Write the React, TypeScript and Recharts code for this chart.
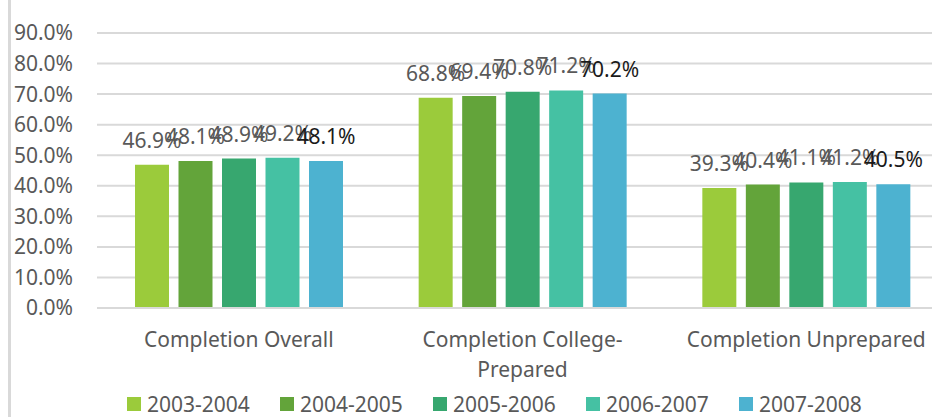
import React from "react";
import {
    BarChart,
    Bar,
    XAxis,
    YAxis,
    CartesianGrid,
    Legend,
    LabelList,
} from "recharts";

const categories = [
    "Completion Overall",
    "Completion College-Prepared",
    "Completion Unprepared",
];

const years = ["2003-2004", "2004-2005", "2005-2006", "2006-2007", "2007-2008"];

const y2003 = [46.9, 68.8, 39.3];
const y2004 = [48.1, 69.4, 40.4];
const y2005 = [48.9, 70.8, 41.1];
const y2006 = [49.2, 71.2, 41.2];
const y2007 = [48.1, 70.2, 40.5];

const yTicks = [0, 10, 20, 30, 40, 50, 60, 70, 80, 90];

const seriesValues = [y2003, y2004, y2005, y2006, y2007];
const colors = ["#9BCB3B", "#63A43A", "#37A76F", "#45C1A3", "#4DB2D0"];
const labelColors = ["#595959", "#595959", "#595959", "#595959", "#1a1a1a"];

const data = categories.map((name, i) => {
    const row: Record<string, string | number> = { name };
    years.forEach((yr, s) => {
        row[yr] = seriesValues[s][i];
    });
    return row;
});

const pct = (v: number) => `${Number(v).toFixed(1)}%`;

// splits long category names after the hyphen, like Excel does
const CategoryTick = (props: any) => {
    const { x, y, payload } = props;
    const label: string = payload.value;
    const idx = label.lastIndexOf("-");
    const lines =
        label.length > 22 && idx > 0
            ? [label.slice(0, idx + 1), label.slice(idx + 1)]
            : [label];
    return (
        <text x={x} y={y} textAnchor="middle" fill="#595959" fontSize={21}>
            {lines.map((l, i) => (
                <tspan key={i} x={x} dy={i === 0 ? 31 : 30}>
                    {l}
                </tspan>
            ))}
        </text>
    );
};

const LegendContent = (props: any) => {
    const { payload } = props;
    return (
        <div
            style={{
                display: "flex",
                alignItems: "center",
                height: 39,
                paddingTop: 13,
                paddingLeft: 127,
                boxSizing: "border-box",
            }}
        >
            {payload.map((p: any) => (
                <div
                    key={p.value}
                    style={{ display: "flex", alignItems: "center", width: 153 }}
                >
                    <span
                        style={{
                            width: 14,
                            height: 14,
                            background: p.color,
                            marginRight: 6,
                            display: "inline-block",
                        }}
                    />
                    <span style={{ fontSize: 21, color: "#595959" }}>{p.value}</span>
                </div>
            ))}
        </div>
    );
};

export default function App() {
    return (
        <div
            style={{
                position: "fixed",
                left: 0,
                top: 0,
                width: 932,
                height: 417,
                overflow: "hidden",
                background: "#ffffff",
                fontFamily: "'Noto Sans', sans-serif",
            }}
        >
            <div
                style={{
                    position: "absolute",
                    left: 8,
                    top: 0,
                    width: 3,
                    height: 417,
                    background: "#d9d9d9",
                }}
            />
            <div style={{ position: "absolute", left: 0, top: 0 }}>
                <BarChart
                    width={960}
                    height={417}
                    data={data}
                    margin={{ top: 33, right: 12, bottom: 0, left: 0 }}
                    barSize={34}
                    barGap={9.5}
                >
                    <CartesianGrid vertical={false} stroke="#d9d9d9" strokeWidth={2} />
                    <XAxis
                        dataKey="name"
                        height={70}
                        tickLine={false}
                        axisLine={{ stroke: "#d9d9d9", strokeWidth: 2 }}
                        tick={<CategoryTick />}
                        interval={0}
                    />
                    <YAxis
                        width={97}
                        domain={[0, 90]}
                        ticks={yTicks}
                        tickFormatter={pct}
                        axisLine={false}
                        tickLine={false}
                        tickMargin={18}
                        tick={{ fill: "#595959", fontSize: 21 }}
                    />
                    <Legend
                        verticalAlign="bottom"
                        height={39}
                        content={<LegendContent />}
                    />
                    {years.map((yr, s) => (
                        <Bar
                            key={yr}
                            dataKey={yr}
                            fill={colors[s]}
                            isAnimationActive={false}
                        >
                            <LabelList
                                dataKey={yr}
                                position="top"
                                offset={17}
                                formatter={(v: any) => pct(v)}
                                fill={labelColors[s]}
                                fontSize={21}
                            />
                        </Bar>
                    ))}
                </BarChart>
            </div>
        </div>
    );
}
